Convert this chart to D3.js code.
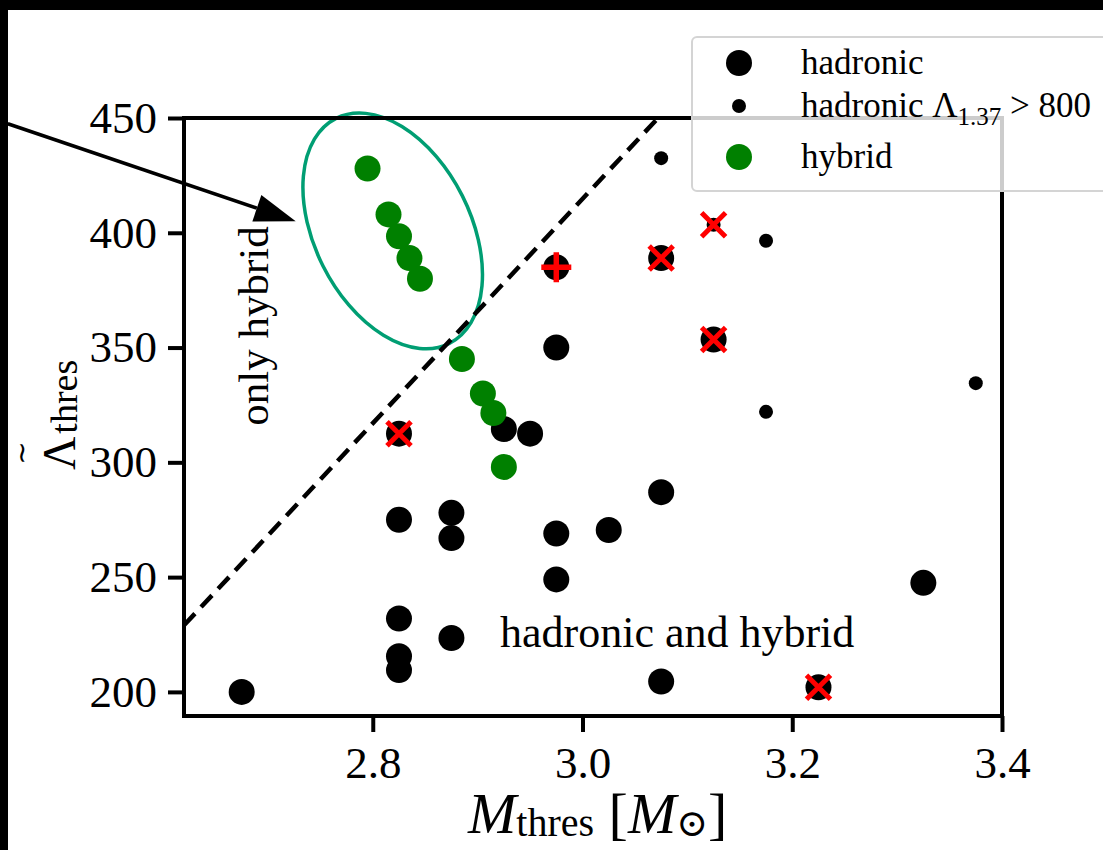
<!DOCTYPE html>
<html><head><meta charset="utf-8">
<script src="https://cdn.jsdelivr.net/npm/d3@7"></script>
<style>
html,body{margin:0;padding:0;background:#000;}
svg{display:block;}
</style></head><body>
<svg id="chart" width="1103" height="850"></svg>
<script>
// hadronic equations of state (large markers)
const hadronicM = [2.675, 2.825, 2.825, 2.825, 2.825, 2.825, 2.875, 2.875, 2.875, 2.925, 2.95, 2.975, 2.975, 2.975, 2.975, 3.025, 3.075, 3.075, 3.075, 3.125, 3.225, 3.325];
const hadronicL = [200, 275, 232, 215.5, 209.5, 312.5, 278, 267, 223.5, 314.5, 312.5, 350, 385, 269, 249, 270.5, 287, 389, 204.5, 353.5, 202, 247.5];

// hadronic with Lambda_1.37 > 800 (small markers)
const hadronicBigLM = [3.075, 3.125, 3.175, 3.175, 3.375];
const hadronicBigLL = [432.5, 403.5, 396.5, 322, 334.5];

// hybrid equations of state
const hybridM = [2.795, 2.815, 2.825, 2.835, 2.845, 2.885, 2.905, 2.915, 2.925];
const hybridL = [428, 408, 398.5, 389, 380, 345, 330, 321.5, 298];

// flagged models: crosses and plus
const crossM = [2.825, 3.075, 3.125, 3.125, 3.225];
const crossL = [312.5, 389, 353.5, 403.5, 202];
const plusM = [2.975];
const plusL = [385];

// separating line between "only hybrid" and "hadronic and hybrid"
const boundaryM = [2.62, 3.072];
const boundaryL = [229, 450];

// arrow pointing to the isolated hybrid group, and the group centre
const arrowM = [2.452, 2.7265];
const arrowL = [447.5, 405];
const groupCenter = [2.819, 400.8];

const xTicks = [2.8, 3.0, 3.2, 3.4];
const yTicks = [200, 250, 300, 350, 400, 450];
const xDomain = [2.62, 3.4];
const yDomain = [189.5, 450];

const SERIF = "'Liberation Serif', 'DejaVu Serif', serif";

const svg = d3.select("#chart");
// white page inside the dark frame
svg.append("rect").attr("x", 8).attr("y", 10).attr("width", 1095).attr("height", 840).attr("fill", "#fff");

const plot = {left: 184, right: 1002, top: 118, bottom: 716};
const x = d3.scaleLinear().domain(xDomain).range([plot.left, plot.right]);
const y = d3.scaleLinear().domain(yDomain).range([plot.bottom, plot.top]);

// clip for marks inside the axes
svg.append("clipPath").attr("id", "plotclip").append("rect")
  .attr("x", plot.left).attr("y", plot.top)
  .attr("width", plot.right - plot.left).attr("height", plot.bottom - plot.top);

// ellipse around the hybrid-only group
svg.append("ellipse")
  .attr("cx", 0).attr("cy", 0).attr("rx", 126).attr("ry", 78)
  .attr("transform", `translate(${x(groupCenter[0])},${y(groupCenter[1])}) rotate(63.3)`)
  .attr("fill", "none").attr("stroke", "#009E73").attr("stroke-width", 3.5);

// dashed boundary
const line = d3.line().x(d => x(d[0])).y(d => y(d[1]));
svg.append("path")
  .datum(boundaryM.map((m, i) => [m, boundaryL[i]]))
  .attr("d", line)
  .attr("clip-path", "url(#plotclip)")
  .attr("fill", "none").attr("stroke", "#000").attr("stroke-width", 4.5)
  .attr("stroke-dasharray", "16,9");

// hadronic points
svg.append("g").selectAll("circle")
  .data(hadronicM.map((m, i) => [m, hadronicL[i]]))
  .join("circle")
  .attr("cx", d => x(d[0])).attr("cy", d => y(d[1])).attr("r", 13).attr("fill", "#000");

svg.append("g").selectAll("circle")
  .data(hadronicBigLM.map((m, i) => [m, hadronicBigLL[i]]))
  .join("circle")
  .attr("cx", d => x(d[0])).attr("cy", d => y(d[1])).attr("r", 7).attr("fill", "#000");

svg.append("g").selectAll("circle")
  .data(hybridM.map((m, i) => [m, hybridL[i]]))
  .join("circle")
  .attr("cx", d => x(d[0])).attr("cy", d => y(d[1])).attr("r", 13).attr("fill", "#008000");

// red flags
const crossG = svg.append("g").attr("stroke", "#ff0000").attr("stroke-width", 5).attr("fill", "none");
crossG.selectAll("path.cross")
  .data(crossM.map((m, i) => [m, crossL[i]]))
  .join("path").attr("class", "cross")
  .attr("d", d => {
    const cx = x(d[0]), cy = y(d[1]), h = 12;
    return `M${cx - h},${cy - h}L${cx + h},${cy + h}M${cx - h},${cy + h}L${cx + h},${cy - h}`;
  });
crossG.selectAll("path.plus")
  .data(plusM.map((m, i) => [m, plusL[i]]))
  .join("path").attr("class", "plus")
  .attr("stroke-width", 5.5)
  .attr("d", d => {
    const cx = x(d[0]), cy = y(d[1]), h = 15;
    return `M${cx - h},${cy}L${cx + h},${cy}M${cx},${cy - h}L${cx},${cy + h}`;
  });

// axes frame
svg.append("rect")
  .attr("x", plot.left).attr("y", plot.top)
  .attr("width", plot.right - plot.left).attr("height", plot.bottom - plot.top)
  .attr("fill", "none").attr("stroke", "#000").attr("stroke-width", 4);

const xAxis = svg.append("g").attr("transform", `translate(0,${plot.bottom})`)
  .call(d3.axisBottom(x).tickValues(xTicks).tickSize(16).tickSizeOuter(0).tickPadding(14).tickFormat(d3.format(".1f")));
const yAxis = svg.append("g").attr("transform", `translate(${plot.left},0)`)
  .call(d3.axisLeft(y).tickValues(yTicks).tickSize(16).tickSizeOuter(0).tickPadding(11).tickFormat(d3.format("d")));
[xAxis, yAxis].forEach(g => {
  g.select(".domain").remove();
  g.selectAll(".tick line").attr("stroke", "#000").attr("stroke-width", 4);
  g.selectAll(".tick text").attr("font-family", SERIF).attr("font-size", 45).attr("fill", "#000");
});

// arrow
{
  const x0 = x(arrowM[0]), y0 = y(arrowL[0]), x1 = x(arrowM[1]), y1 = y(arrowL[1]);
  const ang = Math.atan2(y1 - y0, x1 - x0);
  const hl = 41, hw = 14;
  const bx = x1 - hl * Math.cos(ang), by = y1 - hl * Math.sin(ang);
  svg.append("line").attr("x1", x0).attr("y1", y0).attr("x2", bx).attr("y2", by)
    .attr("stroke", "#000").attr("stroke-width", 3.5);
  const px = -Math.sin(ang), py = Math.cos(ang);
  svg.append("path")
    .attr("d", `M${x1},${y1}L${bx + hw * px},${by + hw * py}L${bx - hw * px},${by - hw * py}Z`)
    .attr("fill", "#000");
}

// region labels
svg.append("text")
  .attr("transform", "translate(268,326) rotate(-90)")
  .attr("text-anchor", "middle")
  .attr("font-family", SERIF).attr("font-size", 43).attr("fill", "#000")
  .text("only hybrid");
svg.append("text")
  .attr("x", 500).attr("y", 647)
  .attr("font-family", SERIF).attr("font-size", 44).attr("fill", "#000")
  .text("hadronic and hybrid");

// axis titles
{
  const t = svg.append("text").attr("x", 468).attr("y", 833)
    .attr("font-family", SERIF).attr("fill", "#000");
  t.append("tspan").attr("font-size", 58).attr("font-style", "italic").text("M");
  t.append("tspan").attr("font-size", 40).attr("dy", 3).text("thres");
  t.append("tspan").attr("font-size", 58).attr("dy", -3).text(" [");
  t.append("tspan").attr("font-size", 58).attr("font-style", "italic").text("M");
  t.append("tspan").attr("font-size", 38).attr("dy", 3).attr("font-family", "'DejaVu Serif', serif").text("\u2299");
  t.append("tspan").attr("font-size", 58).attr("dy", -3).text("]");
}
{
  const g = svg.append("g").attr("transform", "translate(75,470) rotate(-90)");
  const t = g.append("text").attr("font-family", SERIF).attr("fill", "#000");
  t.append("tspan").attr("font-size", 46).text("\u039B");
  t.append("tspan").attr("font-size", 38).attr("dy", 2).attr("dx", 3).text("thres");
  // tilde accent over the Lambda
  g.append("text").attr("x", 17).attr("y", -44).attr("text-anchor", "middle")
    .attr("font-family", "'DejaVu Sans', sans-serif").attr("font-size", 28).attr("fill", "#000").text("\u223C");
}

// legend
{
  const lg = svg.append("g");
  lg.append("rect").attr("x", 692).attr("y", 37).attr("width", 460).attr("height", 154).attr("rx", 5)
    .attr("fill", "#fff").attr("fill-opacity", 0.8).attr("stroke", "#d4d4d4").attr("stroke-width", 2);
  const items = [
    {label: "hadronic", r: 13, color: "#000", ty: 74},
    {label: "hadronic \u039B", sub: "1.37", rest: " > 800", r: 7, color: "#000", ty: 117},
    {label: "hybrid", r: 13, color: "#008000", ty: 168}
  ];
  items.forEach(it => {
    lg.append("circle").attr("cx", 739).attr("cy", it.ty - 11).attr("r", it.r).attr("fill", it.color);
    const t = lg.append("text").attr("x", 801).attr("y", it.ty)
      .attr("font-family", SERIF).attr("font-size", 35).attr("fill", "#000");
    t.append("tspan").text(it.label);
    if (it.sub) {
      t.append("tspan").attr("font-size", 25).attr("dy", 8).text(it.sub);
      t.append("tspan").attr("dy", -8).text(it.rest);
    }
  });
}
</script>
</body></html>
